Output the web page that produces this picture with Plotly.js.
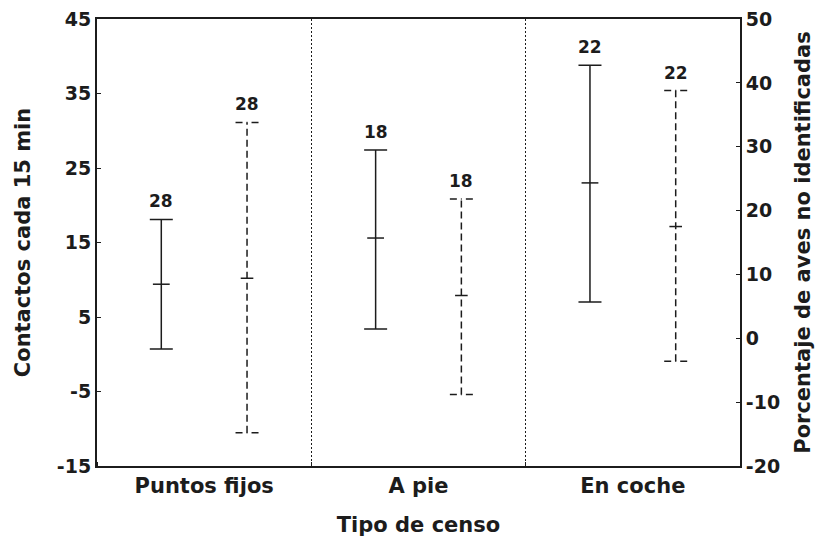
<!DOCTYPE html>
<html>
<head>
<meta charset="utf-8">
<script src="https://cdn.plot.ly/plotly-3.0.1.min.js"></script>
<style>html,body{margin:0;padding:0;background:#fff;}</style>
</head>
<body>
<div id="chart" style="width:826px;height:540px;"></div>
<script>
// ---- data ----
var categories = ['Puntos fijos', 'A pie', 'En coche'];
var contactosMedia = [9.4, 15.6, 23.0];
var contactosSup = [18.1, 27.4, 38.8];
var contactosInf = [0.7, 3.4, 7.0];
var contactosN = ['28', '18', '22'];
var porcentajeMedia = [9.4, 6.7, 17.5];
var porcentajeSup = [33.8, 21.8, 38.8];
var porcentajeInf = [-14.8, -8.8, -3.6];
var porcentajeN = ['28', '18', '22'];
var leftTicks = [-15, -5, 5, 15, 25, 35, 45];
var leftTickText = ['-15', '-5', '5', '15', '25', '35', '45'];
var rightTicks = [-20, -10, 0, 10, 20, 30, 40, 50];
var rightTickText = ['-20', '-10', '0', '10', '20', '30', '40', '50'];

// ---- style ----
var W = 826, H = 540;
var M = {l: 97, r: 86, t: 19, b: 74};
var ink = '#1c1c1c';
var FONT = 'DejaVu Sans, Verdana, sans-serif';
var offset = 0.2;
var pxPerUnit = (W - M.l - M.r) / 3;
var capHalf = 11.5 / pxPerUnit;

var idx = categories.map(function (c, i) { return i; });
var xSolid = idx.map(function (i) { return i - offset; });
var xDash = idx.map(function (i) { return i + offset; });

var solid = {
  type: 'scatter', mode: 'markers', x: xSolid, y: contactosMedia, yaxis: 'y',
  marker: {symbol: 'line-ew', size: 12, color: ink, line: {width: 1.5, color: ink}},
  error_y: {
    type: 'data', symmetric: false,
    array: contactosSup.map(function (v, i) { return v - contactosMedia[i]; }),
    arrayminus: contactosInf.map(function (v, i) { return contactosMedia[i] - v; }),
    width: 11.5, thickness: 1.5, color: ink
  },
  hoverinfo: 'skip', showlegend: false
};

var dx = [], dy = [];
xDash.forEach(function (xc, i) {
  dx.push(xc, xc, null); dy.push(porcentajeInf[i], porcentajeSup[i], null);
  [porcentajeSup[i], porcentajeInf[i]].forEach(function (yv) {
    dx.push(xc - capHalf, xc, null); dy.push(yv, yv, null);
    dx.push(xc + capHalf, xc, null); dy.push(yv, yv, null);
  });
});
var dashed = {
  type: 'scatter', mode: 'lines', x: dx, y: dy, yaxis: 'y2',
  line: {color: ink, width: 1.5, dash: '7px,4px'},
  connectgaps: false, hoverinfo: 'skip', showlegend: false
};
var dashedMean = {
  type: 'scatter', mode: 'markers', x: xDash, y: porcentajeMedia, yaxis: 'y2',
  marker: {symbol: 'line-ew', size: 9, color: ink, line: {width: 1.5, color: ink}},
  hoverinfo: 'skip', showlegend: false
};

var labelFont = {family: FONT, size: 17, color: ink, weight: 'bold'};
var annotations = [];
idx.forEach(function (i) {
  annotations.push({x: xSolid[i], y: contactosSup[i], xref: 'x', yref: 'y', text: contactosN[i],
    showarrow: false, yanchor: 'bottom', yshift: 6, font: labelFont});
  annotations.push({x: xDash[i], y: porcentajeSup[i], xref: 'x', yref: 'y2', text: porcentajeN[i],
    showarrow: false, yanchor: 'bottom', yshift: 6, font: labelFont});
});

var tickFont = {family: FONT, size: 19, color: ink, weight: 'bold'};
var titleFont = {family: FONT, size: 21, color: ink, weight: 'bold'};

var layout = {
  width: W, height: H, margin: M,
  paper_bgcolor: '#fff', plot_bgcolor: '#fff',
  font: {family: FONT, color: ink},
  xaxis: {
    range: [-0.5, 2.5], tickmode: 'array', tickvals: idx, ticktext: categories,
    ticks: '', showgrid: false, zeroline: false,
    showline: true, linecolor: ink, linewidth: 2, mirror: true,
    tickfont: {family: FONT, size: 21, color: ink, weight: 'bold'},
    title: {text: 'Tipo de censo', font: titleFont, standoff: 20},
    minor: {tickmode: 'linear', tick0: 0.5, dtick: 1, ticks: 'inside', ticklen: 4, tickcolor: ink,
      showgrid: true, gridcolor: ink, gridwidth: 1.5, griddash: '2px,2px'},
    fixedrange: true
  },
  yaxis: {
    range: [-15, 45], tickmode: 'array', tickvals: leftTicks, ticktext: leftTickText,
    ticks: 'inside', ticklen: 4, tickcolor: ink, showgrid: false, zeroline: false,
    showline: true, linecolor: ink, linewidth: 2,
    tickfont: tickFont,
    title: {text: 'Contactos cada 15 min', font: titleFont, standoff: 21},
    fixedrange: true
  },
  yaxis2: {
    overlaying: 'y', side: 'right',
    range: [-20, 50], tickmode: 'array', tickvals: rightTicks, ticktext: rightTickText,
    ticks: 'inside', ticklen: 4, tickcolor: ink, showgrid: false, zeroline: false,
    showline: true, linecolor: ink, linewidth: 2,
    tickfont: tickFont,
    title: {text: 'Porcentaje de aves no identificadas', font: titleFont, standoff: 16},
    fixedrange: true
  },
  annotations: annotations,
  showlegend: false
};

Plotly.newPlot('chart', [dashed, dashedMean, solid], layout, {staticPlot: true, displayModeBar: false});
</script>
</body>
</html>
